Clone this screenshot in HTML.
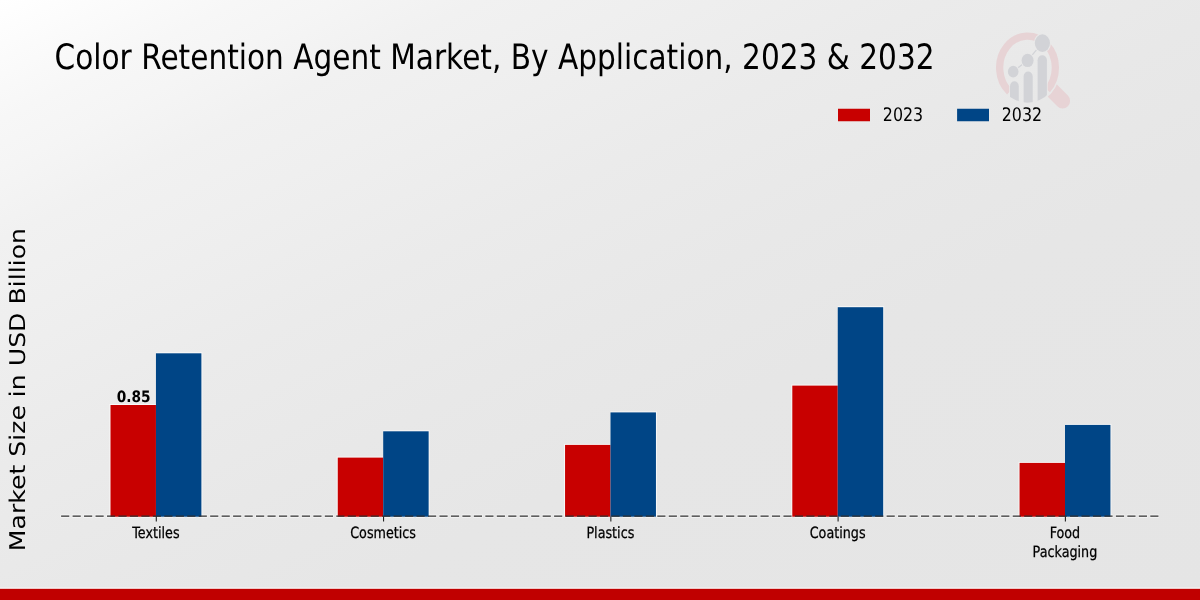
<!DOCTYPE html>
<html lang="en">
<head>
<meta charset="utf-8">
<title>Color Retention Agent Market, By Application, 2023 &amp; 2032</title>
<style>
  html, body { margin:0; padding:0; width:1200px; height:600px; overflow:hidden; background:#e7e7e7; }
  #chart { will-change:transform; position:absolute; left:0; top:0; width:1200px; height:600px; display:block; }
  text { font-family:"DejaVu Sans","Liberation Sans",sans-serif; fill:#000; text-rendering:geometricPrecision; }
  .ylab { font-family:"DejaVu Sans","Liberation Sans",sans-serif; }
  .bold { font-weight:bold; }
</style>
</head>
<body>
<svg id="chart" width="1200" height="600" viewBox="0 0 1200 600">
  <defs>
    <linearGradient id="bg" gradientUnits="userSpaceOnUse" x1="360" y1="-180" x2="840" y2="780">
      <stop offset="0" stop-color="#ffffff"/>
      <stop offset="0.05" stop-color="#fbfbfb"/>
      <stop offset="0.10" stop-color="#f7f7f7"/>
      <stop offset="0.14" stop-color="#f5f5f5"/>
      <stop offset="0.20" stop-color="#f1f1f1"/>
      <stop offset="0.267" stop-color="#efefef"/>
      <stop offset="0.39" stop-color="#ebebeb"/>
      <stop offset="0.52" stop-color="#e8e8e8"/>
      <stop offset="0.64" stop-color="#e6e6e6"/>
      <stop offset="1" stop-color="#e5e5e5"/>
    </linearGradient>
  </defs>
  <rect x="0" y="0" width="1200" height="600" fill="url(#bg)"/>

  <!-- watermark logo -->
  <defs>
    <clipPath id="lens"><ellipse cx="1027.5" cy="67.6" rx="31.5" ry="35.2"/></clipPath>
    <clipPath id="outside"><path clip-rule="evenodd" d="M 980 20 H 1100 V 130 H 980 Z M 1027.5 30.8 A 33 36.8 0 1 0 1027.5 104.4 A 33 36.8 0 1 0 1027.5 30.8 Z"/></clipPath>
  </defs>
  <g id="logo">
    <g clip-path="url(#outside)"><line x1="1046.6" y1="84.9" x2="1062.6" y2="100.9" stroke="#e7d3d5" stroke-width="15" stroke-linecap="round"/></g>
    <path d="M 1009.6 91.77 A 27.85 31.55 0 1 1 1047.2 89.9" fill="none" stroke="#e7d3d5" stroke-width="7.3"/>
    <g clip-path="url(#lens)" fill="#d2d3d7" stroke="#e9e9e9" stroke-width="1.6" paint-order="stroke">
      <rect x="1010" y="81.2" width="8.8" height="40" rx="4.4" ry="5"/>
      <rect x="1023.6" y="71.6" width="9.1" height="50" rx="4.5" ry="5"/>
      <rect x="1037.6" y="55.3" width="9.3" height="70" rx="4.6" ry="5"/>
    </g>
    <polyline points="1013.2,71.6 1027.6,60.4 1042.3,43.2" fill="none" stroke="#d2d3d7" stroke-width="1.3"/>
    <g fill="#d2d3d7" stroke="#e9e9e9" stroke-width="2" paint-order="stroke">
      <ellipse cx="1013.2" cy="71.6" rx="5.3" ry="5.9"/>
      <ellipse cx="1027.6" cy="60.4" rx="6" ry="6.7"/>
      <ellipse cx="1042.4" cy="43.1" rx="7.6" ry="8.8"/>
    </g>
  </g>

  <!-- title -->
  <text id="title" font-size="35" transform="translate(54.5,68.8) scale(0.8454,1)">Color Retention Agent Market, By Application, 2023 &amp; 2032</text>

  <!-- legend -->
  <rect x="838" y="108.75" width="32" height="12.5" fill="#c80000"/>
  <text id="lg1" font-size="18.7" transform="translate(882.8,121.15) scale(0.85,1)">2023</text>
  <rect x="957.1" y="108.75" width="31.9" height="12.5" fill="#004586"/>
  <text id="lg2" font-size="18.7" transform="translate(1001.7,121.15) scale(0.85,1)">2032</text>

  <!-- y label -->
  <text id="ylab" class="ylab" font-size="25.15" text-anchor="middle" transform="translate(24.75,389.6) rotate(-90) scale(1,0.862)">Market Size in USD Billion</text>

  <!-- bars -->
  <line x1="60.6" y1="516.2" x2="1160.6" y2="516.2" stroke="#ffffff" stroke-opacity="0.65" stroke-width="3.3" stroke-dasharray="9.2 2.265"/>
  <g id="bars">
    <g fill="#ffffff" fill-opacity="0.7">
      <rect x="109.50" y="404.00" width="46.45" height="112.60"/>
      <rect x="155.95" y="352.30" width="46.45" height="164.30"/>
      <rect x="336.75" y="456.60" width="46.45" height="60.00"/>
      <rect x="383.20" y="430.30" width="46.45" height="86.30"/>
      <rect x="564.05" y="443.90" width="46.45" height="72.70"/>
      <rect x="610.50" y="411.40" width="46.45" height="105.20"/>
      <rect x="791.30" y="384.60" width="46.45" height="132.00"/>
      <rect x="837.75" y="306.20" width="46.45" height="210.40"/>
      <rect x="1018.55" y="461.90" width="46.45" height="54.70"/>
      <rect x="1065.00" y="423.90" width="46.45" height="92.70"/>
    </g>
    <rect x="110.50" y="405.00" width="45.45" height="111.70" fill="#c80000"/>
    <rect x="155.95" y="353.30" width="45.45" height="163.40" fill="#004586"/>
    <rect x="337.75" y="457.60" width="45.45" height="59.10" fill="#c80000"/>
    <rect x="383.20" y="431.30" width="45.45" height="85.40" fill="#004586"/>
    <rect x="565.05" y="444.90" width="45.45" height="71.80" fill="#c80000"/>
    <rect x="610.50" y="412.40" width="45.45" height="104.30" fill="#004586"/>
    <rect x="792.30" y="385.60" width="45.45" height="131.10" fill="#c80000"/>
    <rect x="837.75" y="307.20" width="45.45" height="209.50" fill="#004586"/>
    <rect x="1019.55" y="462.90" width="45.45" height="53.80" fill="#c80000"/>
    <rect x="1065.00" y="424.90" width="45.45" height="91.80" fill="#004586"/>
  </g>

  <!-- baseline -->
  <line x1="61.1" y1="516.2" x2="1160.6" y2="516.2" stroke="#2e2e2e" stroke-width="1.25" stroke-dasharray="8.2 3.265"/>

  <!-- ticks -->
  <g stroke="#222" stroke-width="1.1">
    <line x1="156.3" y1="516.5" x2="156.3" y2="521.6"/>
    <line x1="383.55" y1="516.5" x2="383.55" y2="521.6"/>
    <line x1="610.85" y1="516.5" x2="610.85" y2="521.6"/>
    <line x1="838.1" y1="516.5" x2="838.1" y2="521.6"/>
    <line x1="1065.4" y1="516.5" x2="1065.4" y2="521.6"/>
  </g>

  <!-- tick labels -->
  <g font-size="15.5" text-anchor="middle" stroke="#000" stroke-width="0.28">
    <text id="t1" transform="translate(155.85,537.9) scale(0.822,1)">Textiles</text>
    <text id="t2" transform="translate(383.1,537.9) scale(0.822,1)">Cosmetics</text>
    <text id="t3" transform="translate(610.35,537.9) scale(0.822,1)">Plastics</text>
    <text id="t4" transform="translate(837.65,537.9) scale(0.822,1)">Coatings</text>
    <text id="t5a" transform="translate(1064.9,537.9) scale(0.822,1)">Food</text>
    <text id="t5b" transform="translate(1064.9,556.5) scale(0.822,1)">Packaging</text>
  </g>

  <!-- value label -->
  <text id="val" class="bold" font-size="15.7" text-anchor="middle" transform="translate(133.6,401.85) scale(0.875,1)">0.85</text>

  <!-- bottom band -->
  <rect x="0" y="587.6" width="1200" height="1.4" fill="#ffffff" fill-opacity="0.75"/>
  <rect x="0" y="588.8" width="1200" height="11.2" fill="#c00000"/>
</svg>
</body>
</html>
